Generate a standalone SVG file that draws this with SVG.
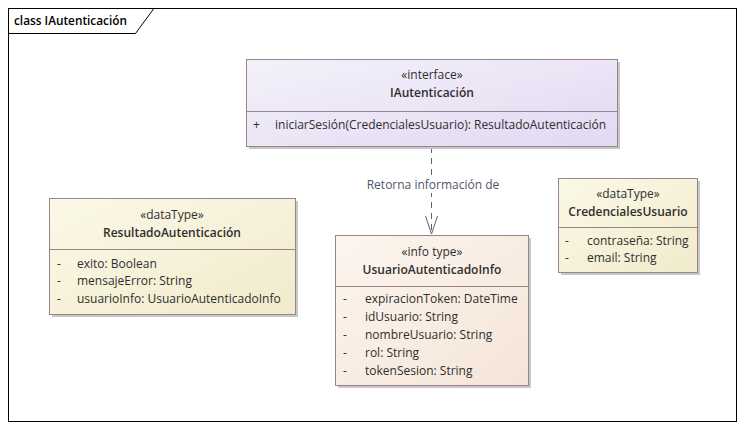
<svg xmlns="http://www.w3.org/2000/svg" width="746" height="430" viewBox="0 0 746 430">
<defs>
<linearGradient id="gInt" x1="0" y1="0" x2="1" y2="1"><stop offset="0" stop-color="#f4f1fa"/><stop offset="1" stop-color="#e2d9f2"/></linearGradient>
<linearGradient id="gDt" x1="0" y1="0" x2="1" y2="1"><stop offset="0" stop-color="#fbf8e8"/><stop offset="1" stop-color="#f1ebcb"/></linearGradient>
<linearGradient id="gInfo" x1="0" y1="0" x2="1" y2="1"><stop offset="0" stop-color="#fcf5ee"/><stop offset="1" stop-color="#f5e5d8"/></linearGradient>
<marker id="open" markerWidth="20" markerHeight="14" refX="19" refY="7" orient="auto" markerUnits="userSpaceOnUse" viewBox="0 0 20 14"><path d="M1,1 L19,7 L1,13" fill="none" stroke="#5a6478" stroke-width="1"/></marker>
</defs>
<style>
text{font-family:"Open Sans","Liberation Sans",Arial,sans-serif;font-size:12px;fill:#2e2e2e}
.c{text-anchor:middle}
.b{font-weight:600}
.box{stroke:#9a8488;stroke-width:1}
.sh{fill:#c8c8c8}
.div{stroke:#9a8488;stroke-width:1}
.lbl{fill:#505868}
</style>
<rect x="0" y="0" width="746" height="430" fill="#ffffff"/>
<g id="frame">
<rect x="8.5" y="8.5" width="728" height="413" fill="none" stroke="#000" stroke-width="1"/>
<path d="M8.5,33.5 H135.5 L153.5,9" fill="none" stroke="#000" stroke-width="1"/>
<text x="14" y="25" class="b" style="font-size:11.8px;fill:#000">class IAutenticación</text>
</g>
<g id="connectors">
<line x1="431.5" y1="147" x2="431.5" y2="234" stroke="#5a6478" stroke-width="1" stroke-dasharray="6,5" marker-end="url(#open)"/>
<rect x="364" y="177" width="138" height="16" fill="#ffffff"/>
<text x="433" y="189" class="c lbl">Retorna información de</text>
</g>
<g id="IAutenticacion">
<rect x="249" y="62" width="371" height="87" class="sh"/>
<rect x="246.5" y="59.5" width="371" height="87" fill="url(#gInt)" class="box"/>
<line x1="246.5" y1="111.5" x2="617.5" y2="111.5" class="div"/>
<text x="432" y="79" class="c">«interface»</text>
<text x="432" y="97" class="c b">IAutenticación</text>
<text x="253" y="129">+</text>
<text x="275" y="129">iniciarSesión(CredencialesUsuario): ResultadoAutenticación</text>
</g>
<g id="ResultadoAutenticacion">
<rect x="52" y="201" width="246" height="116" class="sh"/>
<rect x="49.5" y="198.5" width="246" height="116" fill="url(#gDt)" class="box"/>
<line x1="49.5" y1="249.5" x2="295.5" y2="249.5" class="div"/>
<text x="172" y="219" class="c">«dataType»</text>
<text x="172" y="237" class="c b">ResultadoAutenticación</text>
<text x="57" y="268">-</text><text x="77" y="268">exito: Boolean</text>
<text x="57" y="285">-</text><text x="77" y="285">mensajeError: String</text>
<text x="57" y="303">-</text><text x="77" y="303">usuarioInfo: UsuarioAutenticadoInfo</text>
</g>
<g id="UsuarioAutenticadoInfo">
<rect x="338" y="238" width="193" height="150" class="sh"/>
<rect x="335.5" y="235.5" width="193" height="150" fill="url(#gInfo)" class="box"/>
<line x1="335.5" y1="286.5" x2="528.5" y2="286.5" class="div"/>
<text x="432" y="256" class="c">«info type»</text>
<text x="432" y="274" class="c b">UsuarioAutenticadoInfo</text>
<text x="343" y="303">-</text><text x="365" y="303">expiracionToken: DateTime</text>
<text x="343" y="321">-</text><text x="365" y="321">idUsuario: String</text>
<text x="343" y="339">-</text><text x="365" y="339">nombreUsuario: String</text>
<text x="343" y="357">-</text><text x="365" y="357">rol: String</text>
<text x="343" y="375">-</text><text x="365" y="375">tokenSesion: String</text>
</g>
<g id="CredencialesUsuario">
<rect x="561" y="181" width="139" height="94" class="sh"/>
<rect x="558.5" y="178.5" width="139" height="94" fill="url(#gDt)" class="box"/>
<line x1="558.5" y1="227.5" x2="697.5" y2="227.5" class="div"/>
<text x="628" y="198" class="c">«dataType»</text>
<text x="628" y="216" class="c b">CredencialesUsuario</text>
<text x="565" y="245">-</text><text x="587" y="245">contraseña: String</text>
<text x="565" y="262">-</text><text x="587" y="262">email: String</text>
</g>
</svg>
